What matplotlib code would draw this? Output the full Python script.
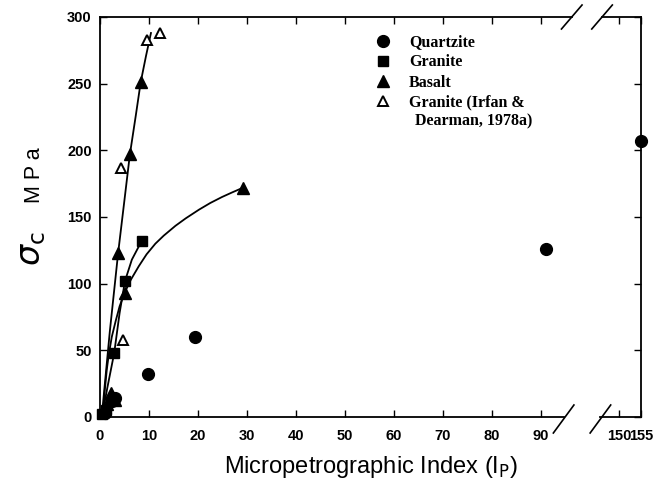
import numpy as np
import matplotlib
matplotlib.use("Agg")
import matplotlib.pyplot as plt
from matplotlib.lines import Line2D

# ---------------- data ----------------
quartzite_x = [1.0, 2.5, 3.0, 9.8, 19.3, 91.0, 155.0]
quartzite_y = [3, 12, 14, 32, 60, 126, 207]

granite_x = [0.5, 1.2, 2.9, 5.1, 8.5]
granite_y = [2, 5, 48, 102, 132]

basalt_x = [1.5, 2.2, 3.0, 3.7, 5.0, 6.1, 8.3, 29.2]
basalt_y = [10, 18, 13, 123, 93, 197, 251, 172]

irfan_x = [4.2, 4.6, 9.5, 12.3]
irfan_y = [187, 58, 283, 288]

# fitted curves (vertices)
steep_fit_x = [0.4, 2.0, 3.7, 5.0, 6.1, 7.3, 8.3, 9.4, 10.4]
steep_fit_y = [2, 64, 123, 163, 197, 226, 251, 271, 288]

granite_fit_x = [0.5, 1.5, 2.9, 4.0, 5.1, 6.5, 8.5]
granite_fit_y = [2, 22, 48, 78, 102, 118, 132]

basalt_fit_x = [0.6, 0.8, 1.0, 1.4, 1.8, 2.4, 3.2, 4.0, 5.0, 6.3, 7.9, 9.5,
                11.3, 13.0, 15.4, 17.5, 20.2, 22.5, 24.9, 27.0, 29.2]
basalt_fit_y = [0, 11, 21, 36, 47, 60, 72, 83, 93, 103, 113, 122,
                130, 136, 143.4, 149, 155.5, 160.5, 165, 168.5, 172]

x_ticks = [0, 10, 20, 30, 40, 50, 60, 70, 80, 90, 150, 155]
y_ticks = [0, 50, 100, 150, 200, 250, 300]

legend_labels = ["Quartzite", "Granite", "Basalt", "Granite (Irfan &"]
legend_label_cont = " Dearman, 1978a)"


# ---------------- broken x scale ----------------
def fwd(x):
    x = np.asarray(x, float)
    return np.where(x <= 95, x,
                    np.where(x <= 150, 95 + (x - 95) * (10.9 / 55.0),
                             105.9 + (x - 150) * 0.9))


def inv(s):
    s = np.asarray(s, float)
    return np.where(s <= 95, s,
                    np.where(s <= 105.9, 95 + (s - 95) * (55.0 / 10.9),
                             150 + (s - 105.9) / 0.9))


fig = plt.figure(figsize=(6.54, 4.91), dpi=100)
ax = fig.add_axes([100 / 654, 1 - 417 / 491, 541 / 654, 400 / 491])
ax.set_xscale("function", functions=(fwd, inv))
ax.set_xlim(0, 155)
ax.set_ylim(0, 300)

lw = 1.3
ax.plot(steep_fit_x, steep_fit_y, color="black", lw=lw, zorder=2)
ax.plot(granite_fit_x, granite_fit_y, color="black", lw=lw, zorder=2)
ax.plot(basalt_fit_x, basalt_fit_y, color="black", lw=lw, zorder=2,
        solid_joinstyle="round")

h_q, = ax.plot(quartzite_x, quartzite_y, "o", color="black", ms=8.5,
               clip_on=False, zorder=4, label=legend_labels[0])
h_g, = ax.plot(granite_x, granite_y, "s", color="black", ms=7,
               clip_on=False, zorder=4, label=legend_labels[1])
h_b, = ax.plot(basalt_x, basalt_y, "^", color="black", ms=8,
               clip_on=False, zorder=4, label=legend_labels[2])
h_i, = ax.plot(irfan_x, irfan_y, "^", mfc="white", mec="black", mew=1.4,
               ms=7, clip_on=False, zorder=4, label=legend_labels[3])

# ticks
tick_font = dict(family="Liberation Sans", weight="bold", size=10.5)
ax.set_xticks(x_ticks)
ax.set_xticklabels([str(t) for t in x_ticks], fontdict=tick_font)
ax.set_yticks(y_ticks)
ax.set_yticklabels([str(t) for t in y_ticks], fontdict=tick_font)
ax.minorticks_off()
ax.tick_params(axis="both", direction="in", length=5, width=1.0,
               top=True, right=True)
ax.tick_params(axis="x", pad=9)
ax.tick_params(axis="y", pad=6)

# spines with breaks
for side in ("left", "right"):
    ax.spines[side].set_linewidth(1.3)
ax.spines["top"].set_visible(False)
ax.spines["bottom"].set_visible(False)

tr = ax.transAxes
dx = 0.019
# top
t1, t2 = 0.872, 0.928
ax.add_line(Line2D([0, t1], [1, 1], transform=tr, color="black", lw=1.3, clip_on=False))
ax.add_line(Line2D([t2, 1], [1, 1], transform=tr, color="black", lw=1.3, clip_on=False))
for cx in (t1, t2):
    ax.add_line(Line2D([cx - dx, cx + dx], [1 - 0.03, 1 + 0.03], transform=tr,
                       color="black", lw=1.2, clip_on=False))
# bottom
u1, u2 = 0.857, 0.925
ax.add_line(Line2D([0, u1], [0, 0], transform=tr, color="black", lw=1.3, clip_on=False))
ax.add_line(Line2D([u2, 1], [0, 0], transform=tr, color="black", lw=1.3, clip_on=False))
for cx in (u1, u2):
    ax.add_line(Line2D([cx - dx, cx + dx], [-0.04, 0.03], transform=tr,
                       color="black", lw=1.2, clip_on=False))

# legend
leg = ax.legend(handles=[h_q, h_g, h_b, h_i], loc="upper left",
                bbox_to_anchor=(0.508, 0.957), frameon=False,
                prop=dict(family="Liberation Serif", weight="bold", size=11.5),
                handlelength=1.0, handletextpad=1.15, labelspacing=0.26,
                borderpad=0, borderaxespad=0, numpoints=1)
ax.text(0.574, 0.74, legend_label_cont, transform=tr,
        family="Liberation Serif", weight="bold", size=11.5,
        ha="left", va="center")

# axis labels
fig.text(371 / 654, 1 - 467 / 491, r"Micropetrographic Index (I$_{\mathrm{P}}$)",
         family="Liberation Sans", size=17, ha="center", va="center")
fig.text(31 / 654, 1 - 249 / 491, r"$\sigma_{\mathrm{c}}$", rotation=90,
         size=24, ha="center", va="center",
         math_fontfamily="dejavusans")
fig.text(34 / 654, 1 - 175 / 491, "M P a", rotation=90,
         family="Liberation Sans", size=15.5, ha="center", va="center")

fig.savefig("out.png", dpi=100)
